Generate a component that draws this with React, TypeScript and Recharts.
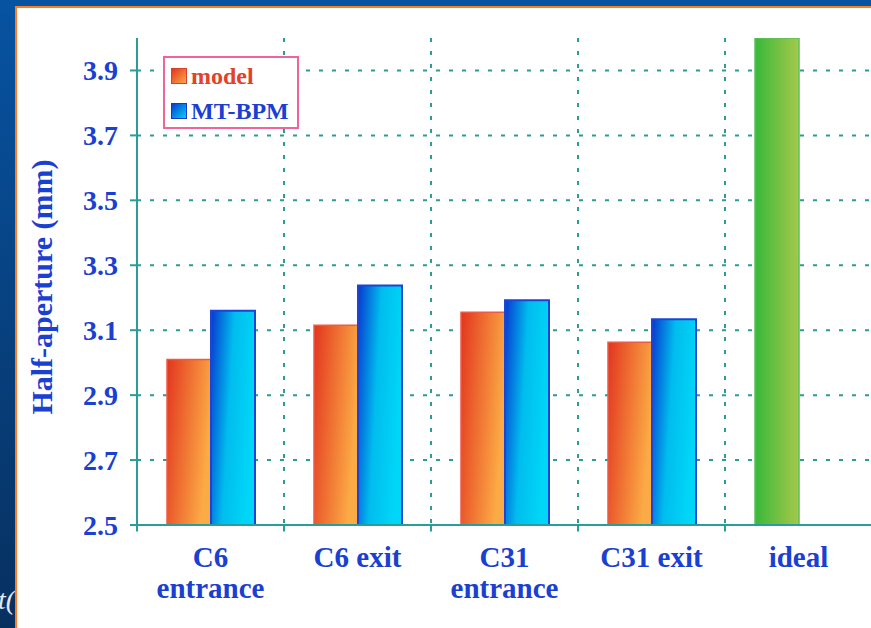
import { BarChart, Bar, XAxis, YAxis, CartesianGrid, Legend, ReferenceLine, Cell } from "recharts";

const categories = ["C6\nentrance", "C6 exit", "C31\nentrance", "C31 exit", "ideal"];
const modelValues = [3.01, 3.115, 3.155, 3.063, 4.0];
const bpmValues: (number | null)[] = [3.16, 3.238, 3.192, 3.134, null];
const yTicks = [2.5, 2.7, 2.9, 3.1, 3.3, 3.5, 3.7, 3.9];
const boundaryTicks = [0, 1, 2, 3, 4, 5];

const data = categories.map((name, i) => ({
  name,
  model: modelValues[i],
  bpm: bpmValues[i],
  pos: i + 0.5,
}));

const TEAL = "#2a9d97";
const BLUE_TEXT = "#1a40d2";
const FONT = "'Liberation Serif', 'Times New Roman', serif";

function CategoryTick({ x, y, payload }: any) {
  const lines = String(payload.value).split("\n");
  return (
    <text x={x} y={y} textAnchor="middle" fill={BLUE_TEXT} fontFamily={FONT} fontWeight="bold" fontSize={29}>
      {lines.map((line, i) => (
        <tspan key={i} x={x} dy={i === 0 ? 42 : 31}>
          {line}
        </tspan>
      ))}
    </text>
  );
}

const legendItems = [
  { label: "model", color: "#e2412a", from: "#e2351f", to: "#fba845", border: "#d8402a" },
  { label: "MT-BPM", color: BLUE_TEXT, from: "#0a3cd0", to: "#00d2f5", border: "#1638c8" },
];

function LegendBox() {
  return (
    <div
      style={{
        width: 132,
        height: 69,
        border: "2px solid #f0649c",
        background: "#fff",
        position: "relative",
        fontFamily: FONT,
        fontWeight: "bold",
        fontSize: 24,
      }}
    >
      {legendItems.map((it, i) => (
        <div key={it.label} style={{ position: "absolute", left: 6, top: 5 + i * 35, display: "flex", alignItems: "center", height: 26 }}>
          <div
            style={{
              width: 14,
              height: 14,
              border: `1px solid ${it.border}`,
              background: `linear-gradient(135deg, ${it.from}, ${it.to})`,
              marginRight: 4,
            }}
          />
          <span style={{ color: it.color, lineHeight: "26px" }}>{it.label}</span>
        </div>
      ))}
    </div>
  );
}

export default function App() {
  return (
    <div
      style={{
        position: "fixed",
        left: 0,
        top: 0,
        width: 871,
        height: 628,
        overflow: "hidden",
        background: "linear-gradient(to bottom, #0753a2, #07305f)",
      }}
    >
      <div style={{ position: "absolute", left: 0, top: 0, width: 15, height: 628, overflow: "hidden" }}>
        <div
          style={{
            position: "absolute",
            left: -2,
            top: 584,
            fontFamily: FONT,
            fontStyle: "italic",
            fontSize: 28,
            color: "#e4e8f2",
            whiteSpace: "nowrap",
          }}
        >
          t(
        </div>
      </div>
      <div
        style={{
          position: "absolute",
          left: 15,
          top: 6,
          width: 856,
          height: 622,
          borderLeft: "2px solid #ff7d1f",
          borderTop: "2px solid #ff7d1f",
          background: "#fff",
          overflow: "hidden",
        }}
      >
        <div
          style={{
            position: "absolute",
            left: 25 - 150,
            top: 287 - 8 - 16,
            width: 300,
            height: 32,
            transform: "rotate(-90deg)",
            textAlign: "center",
            fontFamily: FONT,
            fontWeight: "bold",
            fontSize: 30,
            color: BLUE_TEXT,
            lineHeight: "32px",
            whiteSpace: "nowrap",
          }}
        >
          Half-aperture (mm)
        </div>
        <BarChart
          width={860}
          height={620}
          data={data}
          margin={{ top: 30, right: 5, left: 0, bottom: 0 }}
          barCategoryGap={30}
          barGap={0}
        >
          <defs>
            <linearGradient id="modelGrad" x1="0" y1="0" x2="1" y2="0.35">
              <stop offset="0%" stopColor="#e2351f" />
              <stop offset="100%" stopColor="#fbab45" />
            </linearGradient>
            <linearGradient id="bpmGrad" x1="0" y1="0" x2="1" y2="0.3">
              <stop offset="0%" stopColor="#0838cf" />
              <stop offset="50%" stopColor="#00bdee" />
              <stop offset="100%" stopColor="#00d6f7" />
            </linearGradient>
            <linearGradient id="idealGrad" x1="0" y1="0" x2="1" y2="0">
              <stop offset="0%" stopColor="#39b83b" />
              <stop offset="100%" stopColor="#a6c84a" />
            </linearGradient>
          </defs>
          <XAxis xAxisId="b" type="number" dataKey="pos" domain={[0, 5]} ticks={boundaryTicks} hide />
          <CartesianGrid
            xAxisId="b"
            stroke={TEAL}
            strokeWidth={2}
            strokeDasharray="4 9"
            verticalValues={[1, 2, 3, 4]}
            horizontalValues={yTicks.slice(1)}
          />
          <XAxis
            dataKey="name"
            interval={0}
            height={103}
            axisLine={{ stroke: TEAL, strokeWidth: 2 }}
            tickLine={false}
            tickSize={0}
            tickMargin={0}
            tick={<CategoryTick />}
          />
          <YAxis
            domain={[2.5, 4.0]}
            ticks={yTicks}
            width={120}
            axisLine={{ stroke: TEAL, strokeWidth: 2 }}
            tickLine={{ stroke: TEAL, strokeWidth: 2 }}
            tickSize={7}
            tickMargin={12}
            tickFormatter={(v: number) => v.toFixed(1)}
            tick={{ fill: BLUE_TEXT, fontFamily: FONT, fontWeight: "bold", fontSize: 28 }}
            allowDataOverflow
          />
          {boundaryTicks.map((t) => (
            <ReferenceLine
              key={t}
              xAxisId="b"
              ifOverflow="visible"
              segment={[
                { x: t, y: 2.5 },
                { x: t, y: 2.48 },
              ]}
              stroke={TEAL}
              strokeWidth={2}
            />
          ))}
          {/* middle alignment keeps the legend from reserving space in the plot layout */}
          <Legend
            verticalAlign="middle"
            align="center"
            layout="horizontal"
            wrapperStyle={{ position: "absolute", left: 146, top: 48, width: "auto" }}
            content={() => <LegendBox />}
          />
          <Bar dataKey="model" name="model" fill="url(#modelGrad)" stroke="#ef5a44" strokeWidth={1.5} isAnimationActive={false}>
            {data.map((d) => (
              <Cell
                key={d.name}
                fill={d.name === "ideal" ? "url(#idealGrad)" : "url(#modelGrad)"}
                stroke={d.name === "ideal" ? "#5cc05c" : "#ef5a44"}
              />
            ))}
          </Bar>
          <Bar dataKey="bpm" name="MT-BPM" fill="url(#bpmGrad)" stroke="#1d44d6" strokeWidth={2} isAnimationActive={false} />
        </BarChart>
      </div>
    </div>
  );
}
